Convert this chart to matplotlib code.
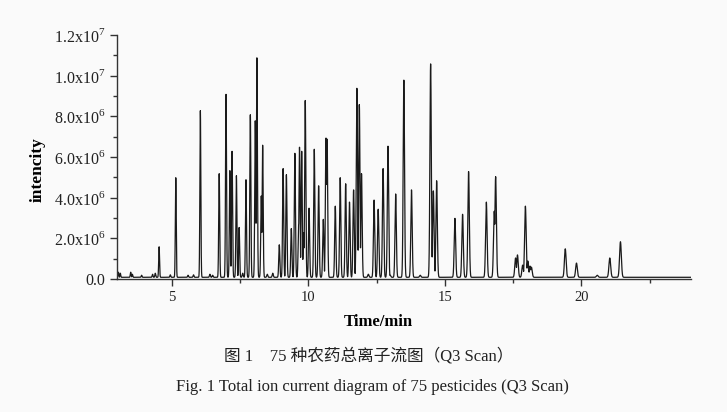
import numpy as np
import matplotlib
matplotlib.use('Agg')
import matplotlib.pyplot as plt

plt.rcParams['font.family'] = ['Liberation Serif', 'Noto Sans CJK SC']
plt.rcParams['mathtext.fontset'] = 'custom'
plt.rcParams['mathtext.rm'] = 'Liberation Serif'

# retention time (min) and peak height (x10^6)
peak_time = [4.54, 5.15, 6.05, 6.74, 6.99, 7.13, 7.21, 7.37, 7.47, 7.72,
             7.88, 8.06, 8.12, 8.28, 8.33, 8.94, 9.08, 9.20, 9.38, 9.51,
             9.65, 9.68, 9.76, 9.83, 9.89, 10.03, 10.22, 10.38, 10.55, 10.65,
             10.69, 10.99, 11.17, 11.37, 11.51, 11.66, 11.78, 11.87, 11.95, 12.41,
             12.56, 12.74, 12.92, 13.20, 13.50, 13.78, 14.48, 14.58, 14.70, 15.37,
             15.65, 15.87, 16.52, 16.81, 16.86, 17.59, 17.66, 17.85, 17.95, 18.04,
             18.12, 18.17, 19.41, 19.82, 20.58, 21.04, 21.43]
peak_height = [1.5, 4.9, 8.2, 5.1, 9.0, 5.25, 6.2, 5.0, 2.45, 4.8,
               8.0, 7.7, 10.8, 4.0, 6.5, 1.6, 5.35, 5.05, 2.4, 6.1,
               2.6, 6.4, 6.2, 2.2, 8.7, 3.4, 6.3, 4.5, 2.85, 6.85,
               6.8, 3.5, 4.9, 4.6, 3.7, 4.3, 9.3, 8.5, 5.1, 3.8,
               3.35, 5.35, 6.45, 4.1, 9.7, 4.3, 10.5, 4.25, 4.75, 2.9,
               3.1, 5.2, 3.7, 3.25, 4.95, 0.95, 1.1, 0.6, 3.5, 0.8,
               0.55, 0.5, 1.4, 0.7, 0.1, 0.95, 1.75]

# small baseline bumps
bump_time = [3.05, 3.12, 3.5, 3.56, 3.9, 4.3, 4.4, 4.95, 5.6, 5.8,
             6.4, 6.5, 7.6, 8.5, 8.7, 12.2, 13.0, 14.1]
bump_height = [0.25, 0.2, 0.25, 0.15, 0.1, 0.15, 0.2, 0.12, 0.1, 0.12,
               0.15, 0.1, 0.2, 0.15, 0.2, 0.15, 0.1, 0.1]
baseline = 0.08

ytick_values = [0, 2, 4, 6, 8, 10, 12]
ytick_labels = ['0.0', '2.0x10$^\\mathregular{6}$', '4.0x10$^\\mathregular{6}$',
                '6.0x10$^\\mathregular{6}$', '8.0x10$^\\mathregular{6}$',
                '1.0x10$^\\mathregular{7}$', '1.2x10$^\\mathregular{7}$']

t = np.linspace(3, 24, 14001)
signal = np.full_like(t, baseline)
for t0, h in zip(peak_time + bump_time, peak_height + bump_height):
    sigma = 0.011 + 0.001 * t0
    signal = np.maximum(signal, baseline + h * np.exp(-0.5 * ((t - t0) / sigma) ** 2))

fig = plt.figure(figsize=(7.27, 4.12), dpi=100, facecolor='#fafafa')
ax = fig.add_axes([0.161, 0.323, 0.789, 0.592])
ax.set_facecolor('#fafafa')

ax.plot(t, signal * 1e6, color='#1a1a1a', linewidth=0.9)

ax.set_xlim(3, 24)
ax.set_ylim(0, 1.2e7)
ax.set_xticks([5, 10, 15, 20])
ax.set_xticks([7.5, 12.5, 17.5, 22.5], minor=True)
ax.set_yticks([v * 1e6 for v in ytick_values])
ax.set_yticklabels(ytick_labels)
ax.set_yticks([v * 1e6 for v in [1, 3, 5, 7, 9, 11]], minor=True)

ax.spines['top'].set_visible(False)
ax.spines['right'].set_visible(False)
for s in ['left', 'bottom']:
    ax.spines[s].set_color('#333333')
    ax.spines[s].set_linewidth(1.0)
ax.tick_params(which='major', length=5, width=1.0, color='#333333')
ax.tick_params(which='minor', length=3, width=1.0, color='#333333')
ax.tick_params(axis='y', labelsize=11.5, labelcolor='#222222')
ax.tick_params(axis='x', labelsize=10.5, labelcolor='#222222')

ax.set_xlabel('Time/min', fontsize=12, fontweight='bold')
ax.xaxis.set_label_coords(0.456, -0.145)
ax.set_ylabel('intencity', fontsize=12.5, fontweight='bold')
ax.yaxis.set_label_coords(-0.124, 0.447)

fig.text(0.507, 1 - 356 / 412, '图 1\u300075 种农药总离子流图（Q3 Scan）',
         ha='center', va='center', fontsize=12, color='#222222')
fig.text(0.512, 1 - 387 / 412, 'Fig. 1 Total ion current diagram of 75 pesticides (Q3 Scan)',
         ha='center', va='center', fontsize=12, color='#222222')

fig.savefig('out.png', dpi=100, facecolor=fig.get_facecolor())
